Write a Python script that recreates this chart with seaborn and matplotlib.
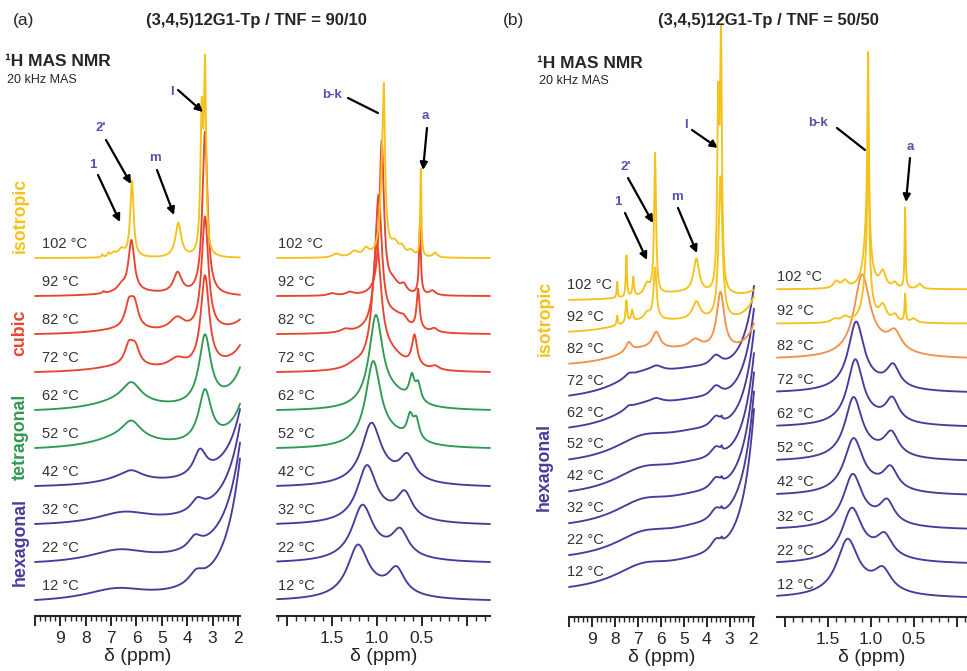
import numpy as np
import pandas as pd
import matplotlib
matplotlib.use("Agg")
import matplotlib.pyplot as plt
import matplotlib.transforms as mtransforms
from matplotlib.ticker import MultipleLocator
import seaborn as sns

# ---------------- data ----------------
temps = [12, 22, 32, 42, 52, 62, 72, 82, 92, 102]
temp_labels = [f"{t} °C" for t in temps]
phases_a = ["hexagonal"] * 4 + ["tetragonal"] * 2 + ["cubic"] * 3 + ["isotropic"]
phases_b = ["hexagonal"] * 7 + ["transition"] + ["isotropic"] * 2

# each trace: list of Lorentzian lines (shift ppm, height, half-width ppm)
peaks_a_left = [
    [(1.2, 8.3, 0.66), (6.8, 0.30, 1.5), (3.65, 0.30, 0.35)],
    [(1.2, 7.0, 0.66), (6.7, 0.32, 1.4), (3.70, 0.30, 0.30)],
    [(1.15, 6.3, 0.66), (6.5, 0.30, 1.3), (3.60, 0.30, 0.30)],
    [(1.1, 5.6, 0.62), (6.4, 0.18, 1.2), (6.2, 0.20, 0.5), (3.5, 0.65, 0.3)],
    [(1.1, 4.2, 0.5), (6.2, 0.45, 0.45), (6.5, 0.30, 1.5), (3.3, 1.35, 0.30)],
    [(1.1, 4.0, 0.5), (6.2, 0.50, 0.45), (6.5, 0.25, 1.5), (3.3, 1.80, 0.28)],
    [(1.1, 2.5, 0.5), (6.3, 0.50, 0.2), (6.05, 0.45, 0.2), (4.4, 0.25, 0.4),
     (3.3, 2.40, 0.2), (6.5, 0.15, 1.5)],
    [(1.1, 1.3, 0.5), (6.3, 0.60, 0.18), (6.08, 0.60, 0.18), (4.4, 0.35, 0.35),
     (3.3, 3.00, 0.16), (6.5, 0.12, 1.5)],
    [(6.2, 1.35, 0.14), (6.6, 0.15, 0.2), (4.38, 0.55, 0.2), (3.3, 4.3, 0.12),
     (6.0, 0.10, 1.5), (7.3, 0.05, 0.05)],
    [(6.18, 2.0, 0.08), (6.6, 0.20, 0.15), (4.35, 0.90, 0.14), (3.3, 4.7, 0.05),
     (3.43, 3.6, 0.06), (7.35, 0.07, 0.04), (7.1, 0.10, 0.05), (6.9, 0.10, 0.1)],
]
peaks_a_right = [
    [(1.21, 1.30, 0.14), (0.78, 0.65, 0.11), (1.0, 0.2, 0.4)],
    [(1.16, 1.35, 0.14), (0.74, 0.65, 0.11), (0.95, 0.2, 0.4)],
    [(1.11, 1.40, 0.13), (0.69, 0.65, 0.10), (0.9, 0.2, 0.4)],
    [(1.06, 1.50, 0.13), (0.66, 0.62, 0.10), (0.9, 0.2, 0.4)],
    [(1.04, 2.10, 0.10), (0.63, 0.55, 0.04), (0.56, 0.50, 0.04), (0.85, 0.3, 0.3)],
    [(1.01, 2.30, 0.09), (0.61, 0.60, 0.035), (0.54, 0.45, 0.035), (0.82, 0.35, 0.25)],
    [(1.00, 3.10, 0.06), (0.58, 0.80, 0.035), (0.85, 0.40, 0.2), (0.35, 0.10, 0.05),
     (1.25, 0.10, 0.1)],
    [(0.98, 3.50, 0.045), (0.54, 1.05, 0.02), (0.80, 0.40, 0.15), (0.70, 0.15, 0.05),
     (0.36, 0.10, 0.04), (1.35, 0.08, 0.06)],
    [(0.945, 4.0, 0.03), (0.52, 1.80, 0.012), (0.82, 0.30, 0.08), (0.70, 0.20, 0.04),
     (0.38, 0.12, 0.04), (1.30, 0.08, 0.05), (1.50, 0.06, 0.05)],
    [(0.92, 2.0, 0.01), (0.93, 2.8, 0.03), (0.51, 2.3, 0.008), (0.80, 0.30, 0.05),
     (0.72, 0.20, 0.04), (0.62, 0.15, 0.04), (0.35, 0.12, 0.03), (1.12, 0.20, 0.04),
     (1.25, 0.15, 0.05), (1.45, 0.10, 0.05)],
]
peaks_b_left = [
    [(1.1, 19.0, 0.54), (6.8, 0.60, 1.6), (3.6, 0.35, 0.3), (4.5, 0.55, 2.0), (3.35, 0.08, 0.03)],
    [(1.1, 17.4, 0.54), (6.8, 0.60, 1.6), (3.6, 0.35, 0.3), (4.5, 0.60, 2.0), (3.35, 0.08, 0.03)],
    [(1.1, 16.0, 0.54), (6.8, 0.62, 1.6), (3.6, 0.35, 0.3), (4.5, 0.62, 2.0), (3.35, 0.08, 0.03)],
    [(1.1, 14.6, 0.54), (6.8, 0.62, 1.6), (3.6, 0.35, 0.3), (4.5, 0.65, 2.0), (3.35, 0.10, 0.03)],
    [(1.1, 13.6, 0.54), (6.8, 0.62, 1.6), (3.6, 0.35, 0.3), (4.5, 0.65, 2.0), (3.35, 0.08, 0.03)],
    [(1.1, 12.5, 0.54), (6.8, 0.60, 1.6), (3.6, 0.35, 0.3), (4.5, 0.65, 2.0), (7.4, 0.10, 0.2),
     (6.2, 0.12, 0.3)],
    [(1.1, 11.5, 0.54), (6.8, 0.60, 1.6), (3.6, 0.35, 0.3), (4.5, 0.65, 2.0), (7.4, 0.12, 0.2),
     (6.2, 0.15, 0.3)],
    [(1.1, 4.5, 0.5), (3.4, 1.8, 0.2), (4.5, 0.40, 2.0), (6.8, 0.40, 1.5), (6.2, 0.50, 0.2),
     (7.4, 0.30, 0.15), (4.5, 0.25, 0.3)],
    [(7.9, 0.30, 0.03), (7.5, 0.70, 0.04), (7.25, 0.35, 0.05), (6.25, 1.6, 0.08),
     (6.6, 0.20, 0.15), (4.45, 0.55, 0.2), (3.4, 4.5, 0.1), (1.1, 4.0, 0.5),
     (4.5, 0.30, 2.0), (6.8, 0.30, 1.5)],
    [(7.9, 0.50, 0.025), (7.5, 1.3, 0.03), (7.2, 0.60, 0.04), (6.25, 4.4, 0.05),
     (6.6, 0.35, 0.15), (4.45, 1.05, 0.15), (3.38, 7.6, 0.05), (3.5, 5.5, 0.05),
     (1.1, 1.0, 0.5), (5.0, 0.25, 2.0)],
]
peaks_b_right = [
    [(1.27, 1.55, 0.15), (0.86, 0.60, 0.12), (1.05, 0.2, 0.4)],
    [(1.22, 1.45, 0.14), (0.84, 0.60, 0.11), (1.02, 0.2, 0.4)],
    [(1.21, 1.45, 0.13), (0.81, 0.62, 0.10), (1.0, 0.2, 0.4)],
    [(1.20, 1.50, 0.13), (0.77, 0.62, 0.10), (1.0, 0.2, 0.4)],
    [(1.20, 1.70, 0.12), (0.76, 0.65, 0.10), (1.0, 0.2, 0.4)],
    [(1.18, 1.80, 0.11), (0.75, 0.65, 0.09), (1.0, 0.2, 0.4)],
    [(1.17, 1.90, 0.11), (0.74, 0.62, 0.09), (1.0, 0.2, 0.4)],
    [(1.10, 2.25, 0.11), (0.72, 0.50, 0.09), (0.9, 0.3, 0.3)],
    [(1.03, 4.0, 0.012), (1.04, 1.6, 0.05), (0.60, 0.8, 0.008), (0.86, 0.45, 0.05),
     (0.72, 0.20, 0.04), (0.50, 0.12, 0.04), (1.30, 0.15, 0.05), (1.42, 0.10, 0.05)],
    [(1.03, 5.2, 0.01), (1.04, 1.8, 0.045), (0.60, 2.35, 0.007), (0.86, 0.45, 0.04),
     (0.72, 0.15, 0.03), (0.43, 0.15, 0.03), (1.30, 0.20, 0.04), (1.40, 0.20, 0.04)],
]

# ---------------- style ----------------
sns.set_theme(style="white")
plt.rcParams["font.family"] = ["Liberation Sans", "DejaVu Sans"]

phase_colors = {"hexagonal": "#4a3a9c", "tetragonal": "#2f9a52", "cubic": "#e8452f",
                "isotropic": "#f5c21b", "transition": "#f0924a"}
label_blue = "#5252b0"
text_dark = "#262626"

W, H = 967, 671
fig = plt.figure(figsize=(W / 100, H / 100), dpi=100)


def px_axes(x0, x1, ytop, ybot):
    return fig.add_axes([x0 / W, 1 - ybot / H, (x1 - x0) / W, (ybot - ytop) / H])


def fp(x, y):
    return (x / W, 1 - y / H)


def spectrum(x, peaks):
    y = np.zeros_like(x)
    for c, h, g in peaks:
        y += h * g * g / ((x - c) ** 2 + g * g)
    return y - min(y[0], y[-1])


def draw_panel(ax, peaks, phases, xlim, ylim, label_x, label_dy, major, major_labels, minor):
    x = np.linspace(xlim[0], xlim[1], 2500)
    frames = []
    for i, (t, pk) in enumerate(zip(temp_labels, peaks)):
        frames.append(pd.DataFrame({"ppm": x, "y": spectrum(x, pk) + i, "trace": t}))
    df = pd.concat(frames, ignore_index=True)
    pal = {t: phase_colors[p] for t, p in zip(temp_labels, phases)}
    sns.lineplot(data=df, x="ppm", y="y", hue="trace", hue_order=temp_labels,
                 palette=pal, estimator=None, sort=False, legend=False,
                 linewidth=1.35, ax=ax)
    for ln in ax.lines:
        ln.set_clip_on(False)
        ln.set_solid_joinstyle("round")
    ax.set_xlim(*xlim)
    ax.set_ylim(*ylim)
    for s in ["left", "right", "top"]:
        ax.spines[s].set_visible(False)
    ax.spines["bottom"].set_linewidth(1.5)
    ax.spines["bottom"].set_color(text_dark)
    ax.set_yticks([])
    ax.set_ylabel("")
    ax.set_xticks(major)
    ax.set_xticklabels(major_labels)
    ax.xaxis.set_minor_locator(MultipleLocator(minor))
    ax.tick_params(axis="x", which="major", direction="out", length=7, width=1.4,
                   colors=text_dark, labelsize=12.5, pad=4, bottom=True)
    ax.tick_params(axis="x", which="minor", direction="out", length=3.5, width=1.0,
                   colors=text_dark, bottom=True)
    ax.set_xlabel("δ (ppm)", fontsize=14, color=text_dark, labelpad=1)
    ax.patch.set_alpha(0)
    tr = mtransforms.blended_transform_factory(ax.transAxes, ax.transData)
    for i, t in enumerate(temp_labels):
        ax.text(label_x, i + label_dy, t, transform=tr, ha="left", va="center",
                fontsize=10.5, color="#333333")


left_major = [2, 3, 4, 5, 6, 7, 8, 9, 10]
left_labels = ["2", "3", "4", "5", "6", "7", "8", "9", ""]
right_major = [0.0, 0.5, 1.0, 1.5, 2.0]
right_labels = ["", "0.5", "1.0", "1.5", ""]

# panel (a)
ax1 = px_axes(35, 240, 40, 616)
draw_panel(ax1, peaks_a_left, phases_a, (10.0, 1.92), (-16 / 38, -16 / 38 + 576 / 38),
           0.034, 0.36, left_major, left_labels, 0.2)
ax2 = px_axes(277, 490, 40, 616)
draw_panel(ax2, peaks_a_right, phases_a, (2.11, -0.26), (-16 / 38, -16 / 38 + 576 / 38),
           0.005, 0.36, right_major, right_labels, 0.1)
# panel (b)
ax3 = px_axes(569, 754, 20, 617)
draw_panel(ax3, peaks_b_left, phases_b, (10.0, 1.94), (-30 / 31.9, -30 / 31.9 + 597 / 31.9),
           -0.01, 0.47, left_major, left_labels, 0.2)
ax4 = px_axes(777, 967, 20, 617)
draw_panel(ax4, peaks_b_right, phases_b, (2.09, -0.12), (-20 / 34.2, -20 / 34.2 + 597 / 34.2),
           0.0, 0.35, right_major, right_labels, 0.1)

# ---------------- texts ----------------
fig.text(*fp(13, 21), "(a)", fontsize=12.5, color=text_dark, ha="left", va="center")
fig.text(*fp(256, 21), "(3,4,5)12G1-Tp / TNF = 90/10", fontsize=12, fontweight="bold",
         color=text_dark, ha="center", va="center")
fig.text(*fp(503, 21), "(b)", fontsize=12.5, color=text_dark, ha="left", va="center")
fig.text(*fp(768, 21), "(3,4,5)12G1-Tp / TNF = 50/50", fontsize=12, fontweight="bold",
         color=text_dark, ha="center", va="center")

for (x, y1, y2) in [(5, 61, 80), (537, 63, 81)]:
    fig.text(*fp(x, y1), "¹H MAS NMR", fontsize=12.5, fontweight="bold", color=text_dark,
             ha="left", va="center")
    fig.text(*fp(x + 2, y2), "20 kHz MAS", fontsize=9, color=text_dark, ha="left", va="center")

phase_text = [("isotropic", 20, 215), ("cubic", 20, 333), ("tetragonal", 20, 437),
              ("hexagonal", 20, 542), ("isotropic", 545, 318), ("hexagonal", 544, 467)]
for name, x, y in phase_text:
    fig.text(*fp(x, y), name, rotation=90, fontsize=12.8, fontweight="bold",
             color=phase_colors[name], ha="center", va="center")

annotations = [
    ("1", (93, 165), (98, 175), (120, 222), True),
    ("2'", (101, 128), (106, 140), (131, 184), True),
    ("m", (155, 158), (157, 170), (174, 215), True),
    ("l", (172, 92), (178, 90), (203, 112), True),
    ("b-k", (332, 95), (348, 98), (378, 113), False),
    ("a", (425, 116), (427, 128), (423, 170), True),
    ("1", (618, 202), (625, 213), (647, 260), True),
    ("2'", (626, 167), (628, 178), (653, 223), True),
    ("m", (677, 197), (678, 208), (697, 253), True),
    ("l", (686, 125), (692, 130), (718, 148), True),
    ("b-k", (818, 123), (837, 128), (865, 150), False),
    ("a", (910, 147), (910, 158), (906, 202), True),
]
for txt, tpos, a0, a1, head in annotations:
    fig.text(*fp(*tpos), txt, fontsize=9.5, fontweight="bold", color=label_blue,
             ha="center", va="center")
    style = "-|>" if head else "-"
    ax1.annotate("", xy=fp(*a1), xytext=fp(*a0), xycoords="figure fraction",
                 textcoords="figure fraction",
                 arrowprops=dict(arrowstyle=style, color="black", lw=1.6,
                                 mutation_scale=11, shrinkA=0, shrinkB=0))

fig.savefig("out.png", dpi=100, facecolor="white")
